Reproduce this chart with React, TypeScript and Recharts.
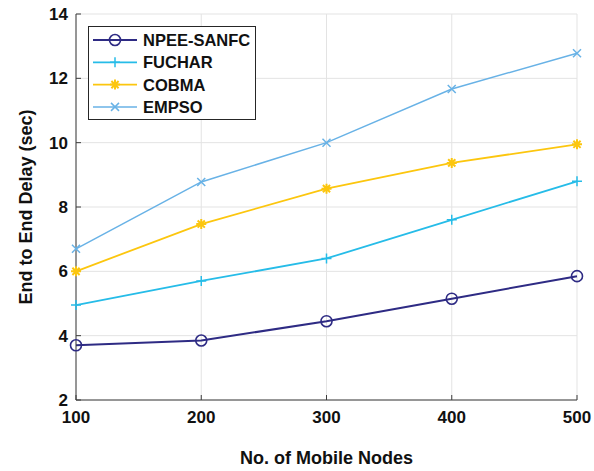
import { LineChart, Line, XAxis, YAxis, CartesianGrid, Legend } from 'recharts'

const nodes = [100, 200, 300, 400, 500]
const npeeSanfc = [3.7, 3.85, 4.45, 5.15, 5.85]
const fuchar = [4.95, 5.7, 6.4, 7.6, 8.8]
const cobma = [6.0, 7.47, 8.57, 9.37, 9.95]
const empso = [6.7, 8.78, 10.0, 11.67, 12.78]
const yTicks = [2, 4, 6, 8, 10, 12, 14]

const FONT = '"Liberation Sans", Arial, Helvetica, sans-serif'
const FRAME = '#3c3c3c'

type MarkerKind = 'circle' | 'plus' | 'star' | 'cross'

const series: { key: string; name: string; color: string; marker: MarkerKind; width: number }[] = [
  { key: 'npee', name: 'NPEE-SANFC', color: '#2e2b84', marker: 'circle', width: 2 },
  { key: 'fuchar', name: 'FUCHAR', color: '#26bce8', marker: 'plus', width: 1.8 },
  { key: 'cobma', name: 'COBMA', color: '#fcc60e', marker: 'star', width: 1.8 },
  { key: 'empso', name: 'EMPSO', color: '#68b2e6', marker: 'cross', width: 1.5 },
]

const data = nodes.map((n, i) => ({
  n,
  npee: npeeSanfc[i],
  fuchar: fuchar[i],
  cobma: cobma[i],
  empso: empso[i],
}))

function Marker({ kind, cx, cy, color }: { kind: MarkerKind; cx: number; cy: number; color: string }) {
  if (kind === 'circle') {
    return <circle cx={cx} cy={cy} r={5.5} fill="none" stroke={color} strokeWidth={1.6} />
  }
  const s = 5
  const d = 3.6
  let path = ''
  if (kind === 'plus' || kind === 'star') {
    path += `M${cx - s},${cy}H${cx + s}M${cx},${cy - s}V${cy + s}`
  }
  if (kind === 'star' || kind === 'cross') {
    const k = kind === 'cross' ? 4 : d
    path += `M${cx - k},${cy - k}L${cx + k},${cy + k}M${cx - k},${cy + k}L${cx + k},${cy - k}`
  }
  return <path d={path} stroke={color} strokeWidth={kind === 'star' ? 2 : 1.5} fill="none" />
}

function LegendBox() {
  return (
    <svg width={168} height={94} style={{ display: 'block' }}>
      <rect x={0.5} y={0.5} width={167} height={93} fill="#fff" stroke="#262626" strokeWidth={1} />
      {series.map((s, i) => {
        const y = 14 + i * 22.3
        return (
          <g key={s.key}>
            <line x1={5} x2={49} y1={y} y2={y} stroke={s.color} strokeWidth={s.width} />
            <Marker kind={s.marker} cx={27} cy={y} color={s.color} />
            <text x={55} y={y} dy="0.36em" fontFamily={FONT} fontWeight="bold" fontSize={16.5} fill="#111">
              {s.name}
            </text>
          </g>
        )
      })}
    </svg>
  )
}

export default function App() {
  return (
    <div style={{ position: 'absolute', left: 0, top: 0, width: 594, height: 471, background: '#fff' }}>
      <LineChart width={594} height={471} data={data} margin={{ top: 14, right: 17, bottom: 31, left: 16 }}>
        <CartesianGrid stroke="#e3e3e3" strokeWidth={1} />
        <XAxis
          dataKey="n"
          type="number"
          domain={[100, 500]}
          ticks={nodes}
          height={40}
          tickSize={-5}
          tickMargin={16}
          stroke={FRAME}
          tick={{ fill: '#111', fontFamily: FONT, fontWeight: 'bold', fontSize: 17 }}
          label={{
            value: 'No. of Mobile Nodes',
            position: 'bottom',
            offset: 11,
            fill: '#111',
            fontFamily: FONT,
            fontWeight: 'bold',
            fontSize: 18,
          }}
        />
        <XAxis
          xAxisId="top"
          orientation="top"
          dataKey="n"
          type="number"
          domain={[100, 500]}
          ticks={nodes}
          height={0}
          tickSize={-5}
          stroke={FRAME}
          tickFormatter={() => ''}
        />
        <YAxis
          type="number"
          domain={[2, 14]}
          ticks={yTicks}
          width={60}
          tickSize={-5}
          tickMargin={13}
          stroke={FRAME}
          tick={{ fill: '#111', fontFamily: FONT, fontWeight: 'bold', fontSize: 17 }}
          label={{
            value: 'End to End Delay (sec)',
            angle: -90,
            position: 'insideLeft',
            offset: 10,
            textAnchor: 'middle',
            fill: '#111',
            fontFamily: FONT,
            fontWeight: 'bold',
            fontSize: 18,
          }}
        />
        <YAxis
          yAxisId="right"
          orientation="right"
          type="number"
          domain={[2, 14]}
          ticks={yTicks}
          width={0}
          tickSize={-5}
          stroke={FRAME}
          tickFormatter={() => ''}
        />
        {series.map(s => (
          <Line
            key={s.key}
            dataKey={s.key}
            name={s.name}
            type="linear"
            stroke={s.color}
            strokeWidth={s.width}
            isAnimationActive={false}
            dot={(p: any) => <Marker key={`${s.key}-${p.index}`} kind={s.marker} cx={p.cx} cy={p.cy} color={s.color} />}
            activeDot={false}
          />
        ))}
        <Legend
          layout="vertical"
          align="center"
          verticalAlign="middle"
          wrapperStyle={{ position: 'absolute', left: 88, top: 26, width: 168, height: 94 }}
          content={() => <LegendBox />}
        />
      </LineChart>
    </div>
  )
}
